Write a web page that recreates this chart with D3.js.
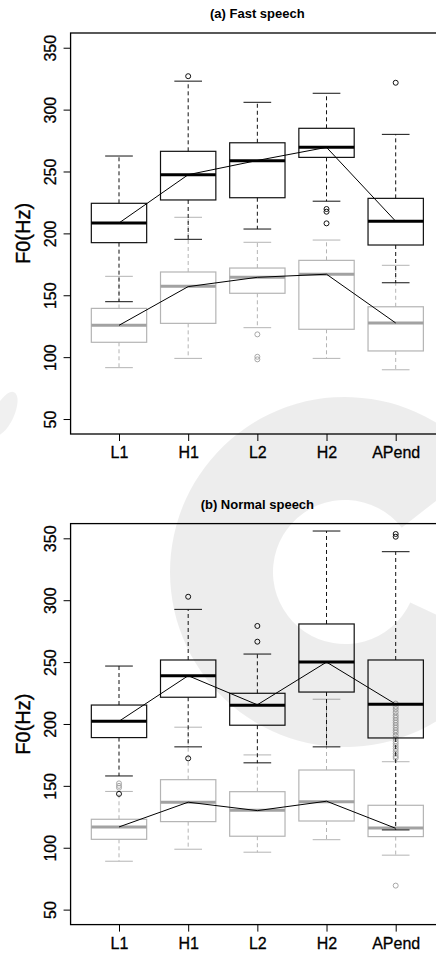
<!DOCTYPE html>
<html>
<head>
<meta charset="utf-8">
<script src="https://cdn.jsdelivr.net/npm/d3@7"></script>
<style>
  body { margin: 0; background: #fff; }
  text { font-family: "Liberation Sans", Arial, sans-serif; }
</style>
</head>
<body>
<script>
const width = 436;
const height = 958;

// DATA
const categories = ["L1", "H1", "L2", "H2", "APend"];
const yTicks = [50, 100, 150, 200, 250, 300, 350];

// box stats per category: [lower whisker, Q1, median, Q3, upper whisker]
const fastHighStats = [
  [144.8, 192.5, 208.4, 224.3, 262.5],
  [195.2, 227.0, 247.4, 266.3, 323.0],
  [203.5, 228.8, 258.7, 273.2, 305.9],
  [226.0, 261.4, 269.5, 284.9, 313.2],
  [160.1, 190.6, 209.7, 228.3, 280.0]
];
const fastHighOut = [[], [327], [], [219.7, 217.5, 208.1], [321.7]];
const fastLowStats = [
  [91.5, 112.0, 125.7, 139.4, 165.3],
  [99.0, 127.3, 157.2, 168.8, 213.0],
  [123.8, 151.6, 164.5, 172.0, 192.8],
  [99.0, 122.5, 166.9, 178.2, 194.6],
  [89.8, 105.0, 127.6, 140.7, 174.2]
];
const fastLowOut = [[], [], [118.4, 100.3, 98.2], [], []];
const fastHighLine = [208.4, 247.4, 258.9, 269.5, 209.8];
const fastLowLine = [125.7, 157.0, 164.5, 167.0, 127.6];

const normalHighStats = [
  [158.0, 189.0, 202.2, 215.3, 246.8],
  [181.5, 221.6, 239.0, 251.7, 292.6],
  [168.6, 199.0, 215.1, 224.8, 256.5],
  [181.5, 225.8, 250.1, 280.8, 355.9],
  [114.4, 188.7, 215.9, 251.7, 339.2]
];
const normalHighOut = [[143.5], [302.8, 172.2], [279.2, 266.5], [], [353.5, 351.3]];
const normalLowStats = [
  [89.1, 106.8, 116.8, 123.0, 145.5],
  [98.8, 121.1, 136.7, 155.0, 197.4],
  [96.4, 109.3, 130.3, 145.3, 175.0],
  [106.5, 121.6, 137.2, 162.8, 220.0],
  [94.0, 109.0, 116.0, 134.3, 169.5]
];
const normalLowOut = [
  [152, 150, 148.5],
  [],
  [],
  [],
  [216.5, 214, 212, 209.5, 207, 205, 203, 201, 199, 197, 195, 193, 190.5,
   188, 186, 184, 182, 180, 178, 176, 174, 172.5, 69.4]
];
const normalHighLine = [202.2, 239.0, 215.5, 250.0, 216.0];
const normalLowLine = [116.8, 136.8, 130.0, 137.6, 115.7];

const svg = d3.select("body").append("svg")
  .attr("width", width)
  .attr("height", height);

// SCALES
const x = d3.scalePoint().domain(categories).range([119, 395.7]);
const step = x.step();
const boxW = step * 0.8;
const capW = boxW / 2;
const frameLeft = x("L1") - 0.7 * step;
const frameRight = x("APend") + 0.7 * step;
const plotH = 401;

const grey = { box: "#b4b4b4", med: "#a2a2a2", out: "#a8a8a8" };
const black = { box: "#111", med: "#000", out: "#111" };

function drawBoxes(g, y, stats, outs, col) {
  categories.forEach((c, i) => {
    const [lo, q1, med, q3, hi] = stats[i];
    const cx = x(c);
    // whiskers
    g.append("line").attr("x1", cx).attr("x2", cx).attr("y1", y(q3)).attr("y2", y(hi))
      .attr("stroke", col.box).attr("stroke-dasharray", "4,3");
    g.append("line").attr("x1", cx).attr("x2", cx).attr("y1", y(q1)).attr("y2", y(lo))
      .attr("stroke", col.box).attr("stroke-dasharray", "4,3");
    // caps
    [lo, hi].forEach(v => {
      g.append("line").attr("x1", cx - capW / 2).attr("x2", cx + capW / 2)
        .attr("y1", y(v)).attr("y2", y(v)).attr("stroke", col.box);
    });
    // box
    g.append("rect")
      .attr("x", cx - boxW / 2).attr("y", y(q3))
      .attr("width", boxW).attr("height", y(q1) - y(q3))
      .attr("fill", "none").attr("stroke", col.box).attr("stroke-width", 1.2);
    // median
    g.append("line").attr("x1", cx - boxW / 2).attr("x2", cx + boxW / 2)
      .attr("y1", y(med)).attr("y2", y(med))
      .attr("stroke", col.med).attr("stroke-width", 3);
    // outliers
    g.selectAll(null).data(outs[i]).enter().append("circle")
      .attr("cx", cx).attr("cy", d => y(d)).attr("r", 2.5)
      .attr("fill", "none").attr("stroke", col.out).attr("stroke-width", 1);
  });
}

function drawPanel(top, title, lowStats, lowOut, highStats, highOut, lowLine, highLine) {
  const y = d3.scaleLinear().domain([37.9, 361.9]).range([top + plotH, top]);
  const g = svg.append("g");

  drawBoxes(g, y, lowStats, lowOut, grey);
  drawBoxes(g, y, highStats, highOut, black);

  const line = d3.line().x((d, i) => x(categories[i])).y(d => y(d));
  [lowLine, highLine].forEach(vals => {
    g.append("path").datum(vals).attr("d", line)
      .attr("fill", "none").attr("stroke", "#000").attr("stroke-width", 1);
  });

  // frame
  g.append("rect")
    .attr("x", frameLeft).attr("y", top)
    .attr("width", frameRight - frameLeft).attr("height", plotH)
    .attr("fill", "none").attr("stroke", "#000").attr("stroke-width", 1.3);

  // Y AXIS
  const yAxis = g.append("g")
    .attr("transform", `translate(${frameLeft}, 0)`)
    .call(d3.axisLeft(y).tickValues(yTicks).tickSize(7).tickSizeOuter(0));
  yAxis.select(".domain").remove();
  yAxis.selectAll("line").attr("stroke", "#000");
  yAxis.selectAll("text")
    .attr("transform", "rotate(-90)")
    .attr("x", 0).attr("y", -15).attr("dy", 0)
    .style("text-anchor", "middle")
    .style("font-size", "16px")
    .attr("fill", "#000")
    .attr("stroke", "#000").attr("stroke-width", 0.3);

  // X AXIS
  const xAxis = g.append("g")
    .attr("transform", `translate(0, ${top + plotH})`)
    .call(d3.axisBottom(x).tickSize(7).tickSizeOuter(0));
  xAxis.select(".domain").remove();
  xAxis.selectAll("line").attr("stroke", "#000");
  xAxis.selectAll("text")
    .attr("y", 24).attr("dy", 0)
    .style("font-size", "16px")
    .attr("fill", "#000")
    .attr("stroke", "#000").attr("stroke-width", 0.3);

  // LABELS
  g.append("text")
    .attr("transform", "rotate(-90)")
    .attr("x", -(top + plotH / 2))
    .attr("y", 30)
    .style("text-anchor", "middle")
    .style("font-size", "20px")
    .attr("stroke", "#000").attr("stroke-width", 0.4)
    .text("F0(Hz)");

  g.append("text")
    .attr("x", (frameLeft + frameRight) / 2)
    .attr("y", top - 15)
    .style("text-anchor", "middle")
    .style("font-size", "13px")
    .style("font-weight", "bold")
    .text(title);
}

drawPanel(33, "(a) Fast speech", fastLowStats, fastLowOut, fastHighStats, fastHighOut, fastLowLine, fastHighLine);
drawPanel(523.6, "(b) Normal speech", normalLowStats, normalLowOut, normalHighStats, normalHighOut, normalLowLine, normalHighLine);

// watermark overlay
const wm = svg.append("g").attr("pointer-events", "none");
wm.append("path")
  .attr("transform", "translate(345, 572)")
  .attr("d", d3.arc()
    .innerRadius(72)
    .outerRadius(175)
    .startAngle(115 * Math.PI / 180)
    .endAngle(412 * Math.PI / 180)())
  .attr("fill", "#000").attr("fill-opacity", 0.07);
wm.append("ellipse")
  .attr("cx", 4).attr("cy", 414).attr("rx", 10).attr("ry", 24)
  .attr("transform", "rotate(25, 4, 414)")
  .attr("fill", "#000").attr("fill-opacity", 0.06);
</script>
</body>
</html>
